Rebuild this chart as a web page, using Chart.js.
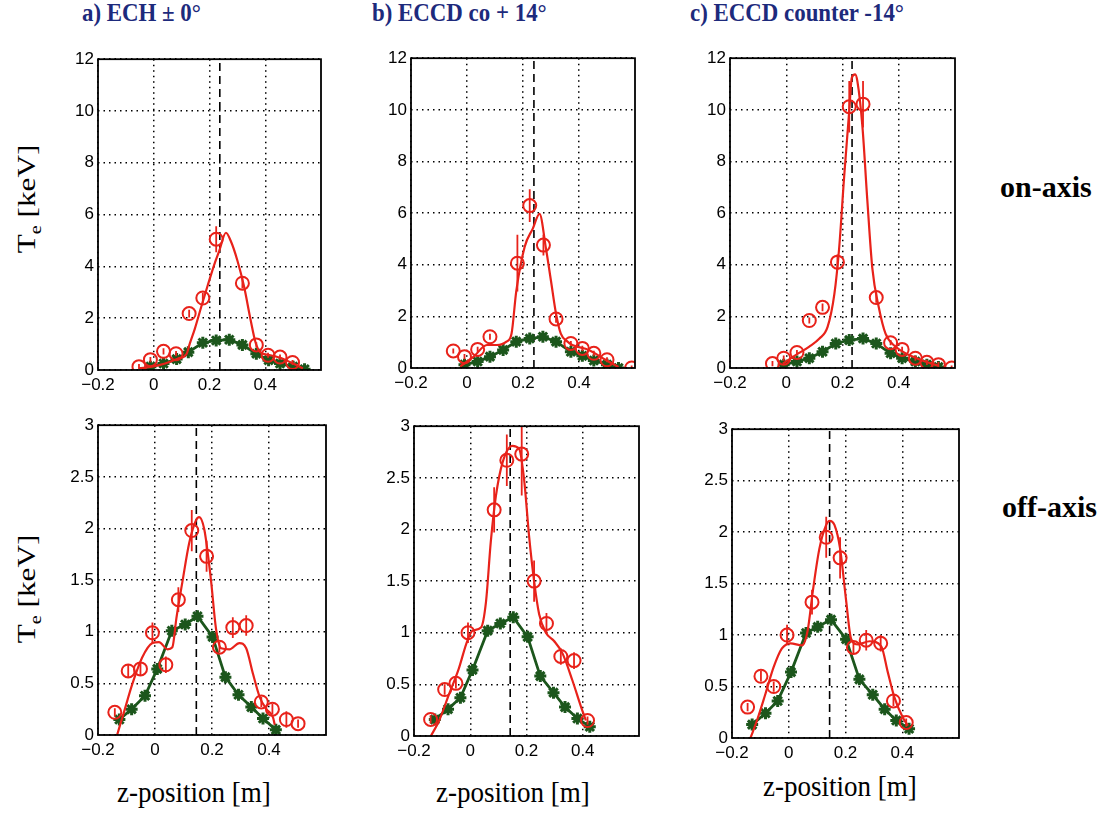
<!DOCTYPE html>
<html>
<head>
<meta charset="utf-8">
<script src="https://cdn.jsdelivr.net/npm/chart.js@4.4.1/dist/chart.umd.min.js"></script>
<style>
    body { margin: 0; background: #fff; width: 1114px; height: 816px; position: relative; overflow: hidden; }
    canvas { position: absolute; }
    .lbl { position: absolute; font-family: 'Liberation Serif', 'Times New Roman', serif; white-space: nowrap; color: #000; }
    .title { font-weight: bold; font-size: 26px; color: #1d2a7c; transform: scaleX(0.88); transform-origin: left top; }
    .side { font-weight: bold; font-size: 30px; }
    .ylab { font-size: 26px; transform-origin: center center; }
    .ylab .sub { font-size: 17px; position: relative; top: 6px; }
    .xlab { font-size: 30px; transform: scaleX(0.9); transform-origin: left top; }
</style>
</head>
<body>

<div class="lbl title" style="left:82px; top:-2px;">a) ECH ± 0°</div>
<div class="lbl title" style="left:372px; top:-2px;">b) ECCD co + 14°</div>
<div class="lbl title" style="left:690px; top:-2px;">c) ECCD counter -14°</div>

<div class="lbl side" style="left:1000px; top:170px;">on-axis</div>
<div class="lbl side" style="left:1002px; top:490px;">off-axis</div>

<div class="lbl ylab" style="left:-18px; top:184px; transform: rotate(-90deg) scaleX(1.2);">T<span class="sub">e</span> [keV]</div>
<div class="lbl ylab" style="left:-18px; top:574px; transform: rotate(-90deg) scaleX(1.2);">T<span class="sub">e</span> [keV]</div>

<div class="lbl xlab" style="left:117px; top:775px;">z-position [m]</div>
<div class="lbl xlab" style="left:436px; top:775px;">z-position [m]</div>
<div class="lbl xlab" style="left:763px; top:769px;">z-position [m]</div>

<canvas id="ta"></canvas>
<canvas id="tb"></canvas>
<canvas id="tc"></canvas>
<canvas id="ba"></canvas>
<canvas id="bb"></canvas>
<canvas id="bc"></canvas>

<script>
// tick labels
const xTicks = [-0.2, 0, 0.2, 0.4];
const topYTicks = [0, 2, 4, 6, 8, 10, 12];
const bottomYTicks = [0, 0.5, 1, 1.5, 2, 2.5, 3];

// dashed vertical line (z of resonance) per panel
const resonanceZ = [0.237, 0.239, 0.234, 0.145, 0.142, 0.144];

// a) on-axis
const taCircZ = [-0.053, -0.012, 0.035, 0.08, 0.127, 0.176, 0.224, 0.318, 0.368, 0.41, 0.453, 0.498];
const taCircT = [0.13, 0.40, 0.72, 0.63, 2.18, 2.78, 5.05, 3.35, 0.97, 0.57, 0.50, 0.29];
const taCircErr = [0.1, 0.1, 0.12, 0.1, 0.15, 0.2, 0.5, 0.2, 0.1, 0.1, 0.1, 0.1];
const taFitZ = [-0.053, -0.006, 0.041, 0.088, 0.118, 0.129, 0.147, 0.171, 0.194, 0.218, 0.235, 0.259, 0.276, 0.3, 0.324, 0.347, 0.365, 0.382, 0.418, 0.453, 0.5, 0.535];
const taFitT = [0.06, 0.13, 0.25, 0.44, 0.63, 1.01, 1.58, 2.46, 3.28, 4.1, 4.6, 5.3, 4.99, 4.23, 3.22, 1.96, 1.07, 0.69, 0.57, 0.47, 0.25, 0.06];
const taGrnZ = [-0.012, 0.035, 0.082, 0.124, 0.176, 0.224, 0.271, 0.318, 0.368, 0.412, 0.453, 0.5, 0.541];
const taGrnT = [0.13, 0.25, 0.42, 0.69, 1.05, 1.14, 1.17, 0.97, 0.63, 0.38, 0.25, 0.13, 0.03];

// b) on-axis
const tbCircZ = [-0.049, -0.009, 0.038, 0.082, 0.18, 0.224, 0.273, 0.318, 0.371, 0.412, 0.453, 0.5, 0.588];
const tbCircT = [0.66, 0.44, 0.72, 1.21, 4.06, 6.29, 4.76, 1.9, 0.95, 0.76, 0.57, 0.32, 0.0];
const tbCircErr = [0.1, 0.1, 0.1, 0.12, 1.1, 0.63, 0.4, 0.15, 0.1, 0.1, 0.1, 0.1, 0.1];
const tbFitZ = [-0.024, 0.024, 0.071, 0.106, 0.141, 0.159, 0.176, 0.206, 0.235, 0.259, 0.282, 0.3, 0.318, 0.335, 0.359, 0.376, 0.435, 0.494, 0.541];
const tbFitT = [0.06, 0.44, 0.89, 0.89, 1.02, 1.33, 2.98, 4.7, 5.4, 5.97, 4.63, 3.37, 2.1, 1.33, 1.02, 0.89, 0.7, 0.32, 0.04];
const tbGrnZ = [-0.009, 0.038, 0.082, 0.129, 0.176, 0.224, 0.271, 0.318, 0.371, 0.412, 0.453, 0.5, 0.541];
const tbGrnT = [0.13, 0.25, 0.44, 0.7, 1.02, 1.14, 1.21, 1.02, 0.63, 0.47, 0.29, 0.13, 0.0];

// c) on-axis
const tcCircZ = [-0.049, -0.009, 0.038, 0.082, 0.129, 0.182, 0.224, 0.273, 0.32, 0.371, 0.412, 0.459, 0.5, 0.541, 0.588];
const tcCircT = [0.17, 0.38, 0.6, 1.84, 2.35, 4.1, 10.12, 10.22, 2.73, 0.98, 0.72, 0.38, 0.22, 0.13, 0.0];
const tcCircErr = [0.1, 0.1, 0.1, 0.12, 0.15, 0.3, 1.0, 0.9, 0.2, 0.1, 0.1, 0.1, 0.1, 0.1, 0.1];
const tcFitZ = [-0.012, 0.035, 0.082, 0.118, 0.147, 0.171, 0.188, 0.206, 0.224, 0.233, 0.245, 0.253, 0.271, 0.288, 0.306, 0.329, 0.353, 0.388, 0.435, 0.494, 0.541];
const tcFitT = [0.17, 0.51, 0.83, 1.14, 1.59, 2.86, 4.63, 7.43, 9.97, 11.24, 11.37, 11.1, 9.33, 6.54, 3.87, 2.35, 1.33, 0.83, 0.51, 0.25, 0.09];
const tcGrnZ = [-0.009, 0.038, 0.082, 0.129, 0.176, 0.224, 0.273, 0.32, 0.371, 0.412, 0.459, 0.5, 0.541];
const tcGrnT = [0.13, 0.25, 0.38, 0.63, 0.95, 1.08, 1.14, 0.95, 0.57, 0.38, 0.25, 0.13, 0.04];

// a) off-axis
const baCircZ = [-0.141, -0.094, -0.051, -0.009, 0.038, 0.082, 0.129, 0.181, 0.226, 0.273, 0.32, 0.373, 0.412, 0.461, 0.502];
const baCircT = [0.22, 0.62, 0.64, 0.99, 0.68, 1.31, 1.98, 1.73, 0.85, 1.04, 1.06, 0.32, 0.25, 0.15, 0.11];
const baCircErr = [0.04, 0.06, 0.06, 0.1, 0.08, 0.12, 0.2, 0.15, 0.05, 0.1, 0.1, 0.05, 0.05, 0.08, 0.04];
const baFitZ = [-0.133, -0.109, -0.08, -0.045, -0.009, 0.014, 0.044, 0.061, 0.075, 0.096, 0.12, 0.144, 0.155, 0.173, 0.196, 0.214, 0.232, 0.261, 0.296, 0.32, 0.344, 0.367, 0.391, 0.414, 0.42];
const baFitT = [0, 0.22, 0.49, 0.75, 0.89, 0.9, 0.83, 0.85, 1.13, 1.48, 1.86, 2.08, 2.11, 1.99, 1.51, 1.03, 0.84, 0.83, 0.89, 0.84, 0.59, 0.37, 0.25, 0.17, 0.1];
const baGrnZ = [-0.125, -0.082, -0.035, 0.008, 0.059, 0.106, 0.149, 0.202, 0.247, 0.293, 0.338, 0.379, 0.424];
const baGrnT = [0.15, 0.25, 0.38, 0.64, 1.01, 1.07, 1.15, 0.95, 0.56, 0.39, 0.27, 0.16, 0.05];

// b) off-axis
const bbCircZ = [-0.141, -0.091, -0.051, -0.008, 0.085, 0.13, 0.183, 0.227, 0.271, 0.322, 0.369, 0.417];
const bbCircT = [0.16, 0.45, 0.51, 1.0, 2.19, 2.67, 2.73, 1.5, 1.09, 0.77, 0.73, 0.15];
const bbCircErr = [0.04, 0.05, 0.05, 0.1, 0.22, 0.25, 0.4, 0.2, 0.1, 0.08, 0.08, 0.04];
const bbFitZ = [-0.14, -0.112, -0.076, -0.041, -0.012, 0.008, 0.038, 0.056, 0.073, 0.091, 0.115, 0.15, 0.174, 0.192, 0.209, 0.227, 0.245, 0.269, 0.298, 0.328, 0.363, 0.393, 0.411];
const bbFitT = [0, 0.14, 0.4, 0.65, 0.91, 1.02, 1.05, 1.3, 1.88, 2.32, 2.65, 2.81, 2.78, 2.47, 1.94, 1.5, 1.18, 1.0, 0.92, 0.8, 0.54, 0.29, 0.15];
const bbGrnZ = [-0.126, -0.079, -0.035, 0.008, 0.062, 0.107, 0.153, 0.204, 0.249, 0.296, 0.337, 0.381, 0.425];
const bbGrnT = [0.16, 0.26, 0.37, 0.64, 1.02, 1.09, 1.15, 0.96, 0.58, 0.42, 0.28, 0.17, 0.09];

// c) off-axis
const bcCircZ = [-0.145, -0.098, -0.053, -0.006, 0.082, 0.132, 0.181, 0.228, 0.273, 0.324, 0.369, 0.414];
const bcCircT = [0.3, 0.6, 0.5, 1.0, 1.32, 1.95, 1.75, 0.88, 0.95, 0.92, 0.36, 0.15];
const bcCircErr = [0.04, 0.05, 0.05, 0.1, 0.12, 0.2, 0.2, 0.06, 0.1, 0.08, 0.05, 0.04];
const bcFitZ = [-0.135, -0.112, -0.082, -0.053, -0.024, 0.006, 0.047, 0.067, 0.085, 0.108, 0.132, 0.144, 0.161, 0.181, 0.202, 0.22, 0.244, 0.285, 0.326, 0.349, 0.373, 0.402, 0.42];
const bcFitT = [0, 0.17, 0.43, 0.69, 0.87, 0.92, 0.9, 1.05, 1.43, 1.84, 2.07, 2.11, 2.07, 1.84, 1.34, 0.96, 0.91, 0.94, 0.89, 0.64, 0.39, 0.2, 0.12];
const bcGrnZ = [-0.129, -0.082, -0.039, 0.008, 0.061, 0.102, 0.149, 0.202, 0.249, 0.296, 0.338, 0.379, 0.424];
const bcGrnT = [0.13, 0.24, 0.36, 0.64, 1.02, 1.08, 1.15, 0.96, 0.57, 0.42, 0.28, 0.17, 0.09];

const RED = '#e8221a';
const GREEN = '#1c561c';

// plot-area boxes in page pixels (left, right, top, bottom)
const panels = [
    { id: 'ta', box: [98, 322, 55, 370], yTicks: topYTicks, cz: taCircZ, ct: taCircT, ce: taCircErr, fz: taFitZ, ft: taFitT, gz: taGrnZ, gt: taGrnT },
    { id: 'tb', box: [411, 636, 54, 368], yTicks: topYTicks, cz: tbCircZ, ct: tbCircT, ce: tbCircErr, fz: tbFitZ, ft: tbFitT, gz: tbGrnZ, gt: tbGrnT },
    { id: 'tc', box: [730, 956, 54, 368], yTicks: topYTicks, cz: tcCircZ, ct: tcCircT, ce: tcCircErr, fz: tcFitZ, ft: tcFitT, gz: tcGrnZ, gt: tcGrnT },
    { id: 'ba', box: [98, 327, 421, 735], yTicks: bottomYTicks, cz: baCircZ, ct: baCircT, ce: baCircErr, fz: baFitZ, ft: baFitT, gz: baGrnZ, gt: baGrnT },
    { id: 'bb', box: [414, 640, 422, 736], yTicks: bottomYTicks, cz: bbCircZ, ct: bbCircT, ce: bbCircErr, fz: bbFitZ, ft: bbFitT, gz: bbGrnZ, gt: bbGrnT },
    { id: 'bc', box: [732, 960, 425, 738], yTicks: bottomYTicks, cz: bcCircZ, ct: bcCircT, ce: bcCircErr, fz: bcFitZ, ft: bcFitT, gz: bcGrnZ, gt: bcGrnT }
];

const Y_AXIS_W = 40, X_AXIS_H = 30, PAD_T = 10, PAD_R = 8;

function fmtTick(v) {
    const s = String(Math.round(v * 100) / 100);
    return v < 0 ? '\u2212' + s.slice(1) : s;
}

function pts(xs, ys) {
    return xs.map((x, i) => ({ x: x, y: ys[i] }));
}

// error bars + black frame around the plot area
function framePlugin(ez, et, ee) {
    return {
        id: 'frameAndErrors',
        afterDatasetsDraw(chart) {
            const { ctx, chartArea: a, scales } = chart;
            ctx.save();
            ctx.beginPath();
            ctx.rect(a.left, a.top, a.right - a.left, a.bottom - a.top);
            ctx.clip();
            ctx.strokeStyle = RED;
            ctx.lineWidth = 1.8;
            ez.forEach((z, i) => {
                const px = scales.x.getPixelForValue(z);
                ctx.beginPath();
                ctx.moveTo(px, scales.y.getPixelForValue(et[i] - ee[i]));
                ctx.lineTo(px, scales.y.getPixelForValue(et[i] + ee[i]));
                ctx.stroke();
            });
            ctx.restore();

            ctx.save();
            ctx.strokeStyle = '#000';
            ctx.lineWidth = 1.8;
            ctx.strokeRect(a.left, a.top, a.right - a.left, a.bottom - a.top);
            ctx.restore();
        }
    };
}

panels.forEach((p, idx) => {
    const [L, R, T, B] = p.box;
    const canvas = document.getElementById(p.id);
    canvas.width = (R - L) + Y_AXIS_W + PAD_R;
    canvas.height = (B - T) + PAD_T + X_AXIS_H;
    canvas.style.left = (L - Y_AXIS_W) + 'px';
    canvas.style.top = (T - PAD_T) + 'px';

    const yMax = p.yTicks[p.yTicks.length - 1];
    const zRes = resonanceZ[idx];

    new Chart(canvas.getContext('2d'), {
        type: 'scatter',
        data: {
            datasets: [
                {
                    label: 'measured',
                    data: pts(p.cz, p.ct),
                    showLine: false,
                    pointStyle: 'circle',
                    pointRadius: 6.5,
                    pointBorderWidth: 2,
                    pointBorderColor: RED,
                    pointBackgroundColor: 'rgba(0,0,0,0)'
                },
                {
                    label: 'fit',
                    data: pts(p.fz, p.ft),
                    showLine: true,
                    borderColor: RED,
                    borderWidth: 2.2,
                    pointRadius: 0,
                    cubicInterpolationMode: 'monotone'
                },
                {
                    label: 'ohmic',
                    data: pts(p.gz, p.gt),
                    showLine: true,
                    borderColor: GREEN,
                    borderWidth: 2.8,
                    pointStyle: 'star',
                    pointRadius: 6,
                    pointBorderWidth: 3,
                    pointBorderColor: GREEN,
                    pointBackgroundColor: GREEN
                },
                {
                    label: 'resonance',
                    data: [{ x: zRes, y: 0 }, { x: zRes, y: yMax }],
                    showLine: true,
                    borderColor: '#000',
                    borderWidth: 1.6,
                    borderDash: [8, 5],
                    pointRadius: 0
                }
            ]
        },
        options: {
            responsive: false,
            devicePixelRatio: 1,
            animation: false,
            layout: { padding: { top: PAD_T, right: PAD_R, left: 0, bottom: 0 } },
            plugins: { legend: { display: false }, tooltip: { enabled: false } },
            scales: {
                x: {
                    type: 'linear',
                    min: -0.2,
                    max: 0.6,
                    afterBuildTicks: s => { s.ticks = xTicks.map(v => ({ value: v })); },
                    afterFit: s => { s.height = X_AXIS_H; },
                    grid: { color: '#000', lineWidth: 1.5, drawTicks: false },
                    border: { display: false, dash: [1.5, 4] },
                    ticks: {
                        padding: 5,
                        color: '#000',
                        autoSkip: false,
                        maxRotation: 0,
                        font: { family: 'Liberation Sans', size: 17 },
                        callback: v => fmtTick(v)
                    }
                },
                y: {
                    type: 'linear',
                    min: 0,
                    max: yMax,
                    afterBuildTicks: s => { s.ticks = p.yTicks.map(v => ({ value: v })); },
                    afterFit: s => { s.width = Y_AXIS_W; },
                    grid: { color: '#000', lineWidth: 1.5, drawTicks: false },
                    border: { display: false, dash: [1.5, 4] },
                    ticks: {
                        padding: 4,
                        color: '#000',
                        autoSkip: false,
                        font: { family: 'Liberation Sans', size: 17 },
                        callback: v => fmtTick(v)
                    }
                }
            }
        },
        plugins: [framePlugin(p.cz, p.ct, p.ce)]
    });
});
</script>
</body>
</html>
